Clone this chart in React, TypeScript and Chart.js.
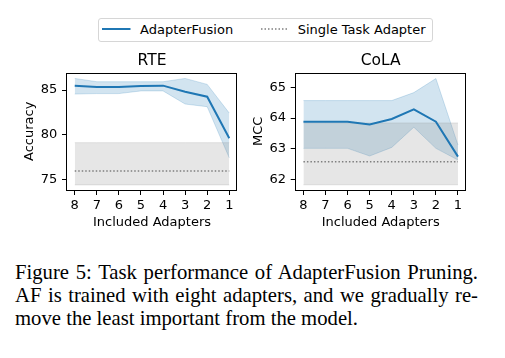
import React, { useEffect, useRef } from "react";
import { Chart, registerables } from "chart.js";

Chart.register(...registerables);

// ---------------- data ----------------
const seriesNames = ["AdapterFusion", "Single Task Adapter"];
const adapters = [8, 7, 6, 5, 4, 3, 2, 1];

const rteMean = [85.49, 85.34, 85.34, 85.45, 85.49, 84.8, 84.25, 79.6];
const rteUpper = [86.3, 85.93, 85.93, 85.93, 85.93, 86.3, 85.63, 82.42];
const rteLower = [84.55, 84.6, 84.6, 84.9, 84.9, 83.43, 83.13, 77.4];
const rteSingle = [75.93]; // mean
const rteSingleBand = [74.37, 79.1]; // lower, upper
const rteTicks = [75, 80, 85];

const colaMean = [63.88, 63.88, 63.88, 63.79, 63.97, 64.28, 63.88, 62.74];
const colaUpper = [64.57, 64.57, 64.57, 64.57, 64.57, 64.83, 65.29, 63.12];
const colaLower = [63.01, 63.01, 63.01, 62.76, 63.04, 63.7, 63.01, 62.63];
const colaSingle = [62.57];
const colaSingleBand = [61.82, 63.84];
const colaTicks = [62, 63, 64, 65];

const captionLines = [
  "Figure 5: Task performance of AdapterFusion Pruning.",
  "AF is trained with eight adapters, and we gradually re-",
  "move the least important from the model.",
];

// ---------------- styles ----------------
const FONT = "'DejaVu Sans', sans-serif";
const BLUE = "#1f77b4";
const BLUE_A = "rgba(31,119,180,0.2)";
const GRAY = "#7f7f7f";
const GRAY_A = "rgba(128,128,128,0.2)";

const pts = (vals: number[]) => adapters.map((x, i) => ({ x, y: vals[i] }));
const flat = (v: number) => adapters.map((x) => ({ x, y: v }));

const framePlugin = {
  id: "frame",
  afterDraw(chart: any) {
    const { ctx, chartArea: a } = chart;
    ctx.save();
    ctx.strokeStyle = "#000";
    ctx.lineWidth = 1;
    const l = Math.round(a.left) - 0.5;
    const t = Math.round(a.top) + 0.5;
    const r = Math.round(a.right) - 0.5;
    const b = Math.round(a.bottom) + 0.5;
    ctx.strokeRect(l, t, r - l, b - t);
    ctx.restore();
  },
};

type PanelProps = {
  title: string;
  yLabel: string;
  mean: number[];
  upper: number[];
  lower: number[];
  single: number[];
  singleBand: number[];
  yMin: number;
  yMax: number;
  yTicks: number[];
  yAxisWidth: number;
  padRight: number;
  yTitlePad: number;
  left: number;
  width: number;
};

function Panel(p: PanelProps) {
  const ref = useRef<HTMLCanvasElement>(null);
  useEffect(() => {
    const tickFont = { family: FONT, size: 13 };
    const gridOpts = {
      display: true,
      drawOnChartArea: false,
      drawTicks: true,
      tickLength: 5,
      color: "#000",
      lineWidth: 1,
    };
    const chart = new Chart(ref.current as HTMLCanvasElement, {
      type: "line",
      data: {
        datasets: [
          {
            label: seriesNames[0],
            data: pts(p.mean),
            borderColor: BLUE,
            borderWidth: 2,
            pointRadius: 0,
            fill: false,
          },
          {
            label: seriesNames[1],
            data: flat(p.single[0]),
            borderColor: GRAY,
            borderWidth: 1.5,
            borderDash: [1.5, 2],
            pointRadius: 0,
            fill: false,
          },
          {
            label: "sta-upper",
            data: flat(p.singleBand[1]),
            borderColor: GRAY_A,
            backgroundColor: GRAY_A,
            borderWidth: 1,
            pointRadius: 0,
            fill: "+1",
          },
          {
            label: "sta-lower",
            data: flat(p.singleBand[0]),
            borderColor: GRAY_A,
            borderWidth: 1,
            pointRadius: 0,
            fill: false,
          },
          {
            label: "af-upper",
            data: pts(p.upper),
            borderColor: BLUE_A,
            backgroundColor: BLUE_A,
            borderWidth: 1,
            pointRadius: 0,
            fill: "+1",
          },
          {
            label: "af-lower",
            data: pts(p.lower),
            borderColor: BLUE_A,
            borderWidth: 1,
            pointRadius: 0,
            fill: false,
          },
        ],
      },
      options: {
        responsive: false,
        animation: false,
        devicePixelRatio: 1,
        layout: { padding: { left: 0, right: p.padRight, top: 0, bottom: 0 } },
        plugins: {
          legend: { display: false },
          tooltip: { enabled: false },
          title: {
            display: true,
            fullSize: false,
            text: p.title,
            color: "#000",
            font: { family: FONT, size: 15.5, weight: "normal" },
            padding: { top: 6.2, bottom: 2.9 },
          },
        },
        scales: {
          x: {
            type: "linear",
            reverse: true,
            min: 0.65,
            max: 8.35,
            afterBuildTicks: (s: any) => {
              s.ticks = adapters.map((v) => ({ value: v }));
            },
            afterFit: (s: any) => {
              s.height = 45;
            },
            grid: gridOpts,
            border: { display: false },
            ticks: {
              color: "#000",
              font: tickFont,
              padding: 3.2,
              maxRotation: 0,
              autoSkip: false,
            },
            title: {
              display: true,
              text: "Included Adapters",
              color: "#000",
              font: tickFont,
              padding: { top: 0, bottom: 4.2 },
            },
          },
          y: {
            type: "linear",
            min: p.yMin,
            max: p.yMax,
            afterBuildTicks: (s: any) => {
              s.ticks = p.yTicks.map((v) => ({ value: v }));
            },
            afterFit: (s: any) => {
              s.width = p.yAxisWidth;
            },
            grid: gridOpts,
            border: { display: false },
            ticks: { color: "#000", font: tickFont, padding: 4.7 },
            title: {
              display: true,
              text: p.yLabel,
              color: "#000",
              font: tickFont,
              padding: { top: p.yTitlePad, bottom: 0 },
            },
          },
        },
      } as any,
      plugins: [framePlugin],
    });
    return () => chart.destroy();
  }, []);
  return (
    <canvas
      ref={ref}
      width={p.width}
      height={190}
      style={{ position: "absolute", left: p.left, top: 45, width: p.width, height: 190 }}
    />
  );
}

export default function App() {
  return (
    <div
      style={{
        position: "absolute",
        left: 0,
        top: 0,
        width: 505,
        height: 358,
        background: "#fff",
        overflow: "hidden",
      }}
    >
      {/* legend */}
      <div
        style={{
          position: "absolute",
          left: 98,
          top: 18,
          width: 335,
          height: 24,
          boxSizing: "border-box",
          border: "1px solid #d6d6d6",
          borderRadius: 3,
        }}
      />
      <svg
        width={505}
        height={60}
        style={{ position: "absolute", left: 0, top: 0 }}
      >
        <line x1={102} y1={29} x2={130.5} y2={29} stroke={BLUE} strokeWidth={2} />
        <line
          x1={261}
          y1={29}
          x2={287}
          y2={29}
          stroke={GRAY}
          strokeWidth={1.5}
          strokeDasharray="1.5 2"
        />
      </svg>
      <div
        style={{
          position: "absolute",
          left: 140,
          top: 22.5,
          font: `13px ${FONT}`,
          lineHeight: "13px",
          whiteSpace: "nowrap",
          color: "#000",
        }}
      >
        {seriesNames[0]}
      </div>
      <div
        style={{
          position: "absolute",
          left: 297.7,
          top: 22.5,
          font: `13px ${FONT}`,
          lineHeight: "13px",
          whiteSpace: "nowrap",
          color: "#000",
        }}
      >
        {seriesNames[1]}
      </div>

      <Panel
        title="RTE"
        yLabel="Accuracy"
        mean={rteMean}
        upper={rteUpper}
        lower={rteLower}
        single={rteSingle}
        singleBand={rteSingleBand}
        yMin={73.8}
        yMax={86.94}
        yTicks={rteTicks}
        yAxisWidth={67}
        padRight={13}
        yTitlePad={22}
        left={0}
        width={250}
      />
      <Panel
        title="CoLA"
        yLabel="MCC"
        mean={colaMean}
        upper={colaUpper}
        lower={colaLower}
        single={colaSingle}
        singleBand={colaSingleBand}
        yMin={61.65}
        yMax={65.48}
        yTicks={colaTicks}
        yAxisWidth={45.7}
        padRight={39.3}
        yTitlePad={0.9}
        left={250}
        width={255}
      />

      {/* caption */}
      <div
        style={{
          position: "absolute",
          left: 15,
          top: 261,
          width: 463,
          font: '20.7px "Liberation Serif", "Times New Roman", serif',
          lineHeight: "23px",
          color: "#000",
        }}
      >
        <div style={{ textAlign: "justify", textAlignLast: "justify", whiteSpace: "nowrap" as any }}>
          {captionLines[0]}
        </div>
        <div style={{ textAlign: "justify", textAlignLast: "justify", whiteSpace: "nowrap" as any }}>
          {captionLines[1]}
        </div>
        <div style={{ textAlign: "left" }}>{captionLines[2]}</div>
      </div>
    </div>
  );
}
